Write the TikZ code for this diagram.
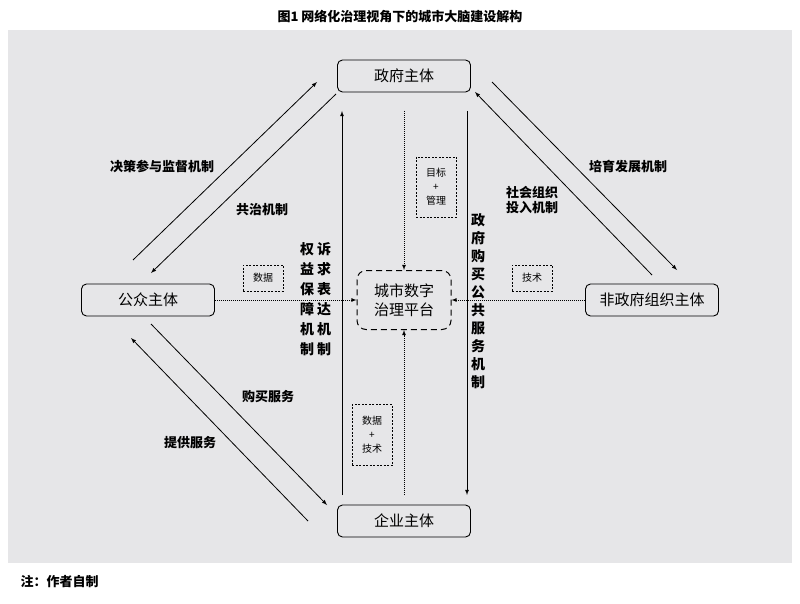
\documentclass[tikz,border=0pt]{standalone}
\usepackage{fontspec}
\setmainfont{Noto Sans CJK SC}
\definecolor{panel}{RGB}{230,230,232}

\begin{document}
\begin{tikzpicture}[x=1pt,y=-1pt,
	party/.style={draw, rounded corners=5pt, line width=0.9pt, minimum width=133pt, minimum height=32pt, font=\fontsize{15}{18}\selectfont},
	tag/.style={draw, dash pattern=on 2pt off 1.5pt, line width=0.5pt, minimum width=40pt, inner sep=0pt, align=center, font=\fontsize{10}{14}\selectfont},
	lbl/.style={font=\bfseries\fontsize{13}{15}\selectfont},
	col/.style={align=center, inner sep=0pt, font=\bfseries\fontsize{14}{#1}\selectfont},
	flow/.style={arrows={-latex}, line width=0.8pt},
	feed/.style={arrows={-latex}, line width=0.8pt, dash pattern=on 1pt off 1pt}]
	\useasboundingbox (0,0) rectangle (800,604);
	\fill [panel] (8,30) rectangle (792,563);
	
	\node [font=\bfseries\fontsize{13}{15}\selectfont] (title) at (400,17) {图1\ 网络化治理视角下的城市大脑建设解构};
	\node [anchor=west, font=\bfseries\fontsize{13}{15}\selectfont] (note) at (17,582) {注：作者自制};
	
	\node [party] (gov) at (404,76) {政府主体};
	\node [party] (ent) at (404,521) {企业主体};
	\node [party] (pub) at (148,300) {公众主体};
	\node [party] (ngo) at (652,300) {非政府组织主体};
	\node [draw, dash pattern=on 6pt off 4pt, line width=1pt, rounded corners=9pt, minimum width=94pt, minimum height=59pt, align=center, font=\fontsize{15}{19}\selectfont] (plat) at (404,300) {城市数字\\治理平台};
	
	% end points of the connectors
	\coordinate (lb) at (342,495);
	\coordinate (lt) at (342,111);
	\coordinate (rt) at (467,111);
	\coordinate (rb) at (467,495);
	\coordinate (mt) at (404,111);
	\coordinate (mb) at (404,495);
	\coordinate (pg1) at (133,260);
	\coordinate (gp1) at (317,82);
	\coordinate (gp2) at (336,94);
	\coordinate (pg2) at (151,273);
	\coordinate (ng1) at (652,275);
	\coordinate (gn1) at (475,92);
	\coordinate (gn2) at (492,82);
	\coordinate (ng2) at (677,270);
	\coordinate (ep1) at (308,521);
	\coordinate (pe1) at (131,338);
	\coordinate (pe2) at (151,324);
	\coordinate (ep2) at (327,505);
	
	\draw [flow] (lb) -- (lt);
	\draw [flow] (rt) -- (rb);
	\draw [feed] (mt) -- (plat);
	\draw [feed] (mb) -- (plat);
	\draw [feed] (pub) -- (plat);
	\draw [feed] (ngo) -- (plat);
	\draw [flow] (pg1) -- (gp1);
	\draw [flow] (gp2) -- (pg2);
	\draw [flow] (ng1) -- (gn1);
	\draw [flow] (gn2) -- (ng2);
	\draw [flow] (ep1) -- (pe1);
	\draw [flow] (pe2) -- (ep2);
	
	\node [tag, minimum height=60pt] (goal) at (436,187) {目标\\+\\管理};
	\node [tag, minimum height=26pt] (data) at (263,278) {数据};
	\node [tag, minimum height=26pt] (tech) at (532,278) {技术};
	\node [tag, minimum height=61pt] (both) at (372,435) {数据\\+\\技术};
	
	\node [lbl] (decide) at (162,166) {决策参与监督机制};
	\node [lbl] (cogov) at (262,210) {共治机制};
	\node [lbl] (grow) at (628,167) {培育发展机制};
	\node [lbl, align=center, font=\bfseries\fontsize{13}{15}\selectfont] (social) at (532,200) {社会组织\\投入机制};
	\node [lbl] (purchase) at (268,397) {购买服务};
	\node [lbl] (supply) at (190,443) {提供服务};
	\node [col=20] (rights) at (307,299) {权\\益\\保\\障\\机\\制};
	\node [col=20] (voice) at (324,299) {诉\\求\\表\\达\\机\\制};
	\node [col=18] (govbuy) at (478,301) {政\\府\\购\\买\\公\\共\\服\\务\\机\\制};
\end{tikzpicture}
\end{document}
